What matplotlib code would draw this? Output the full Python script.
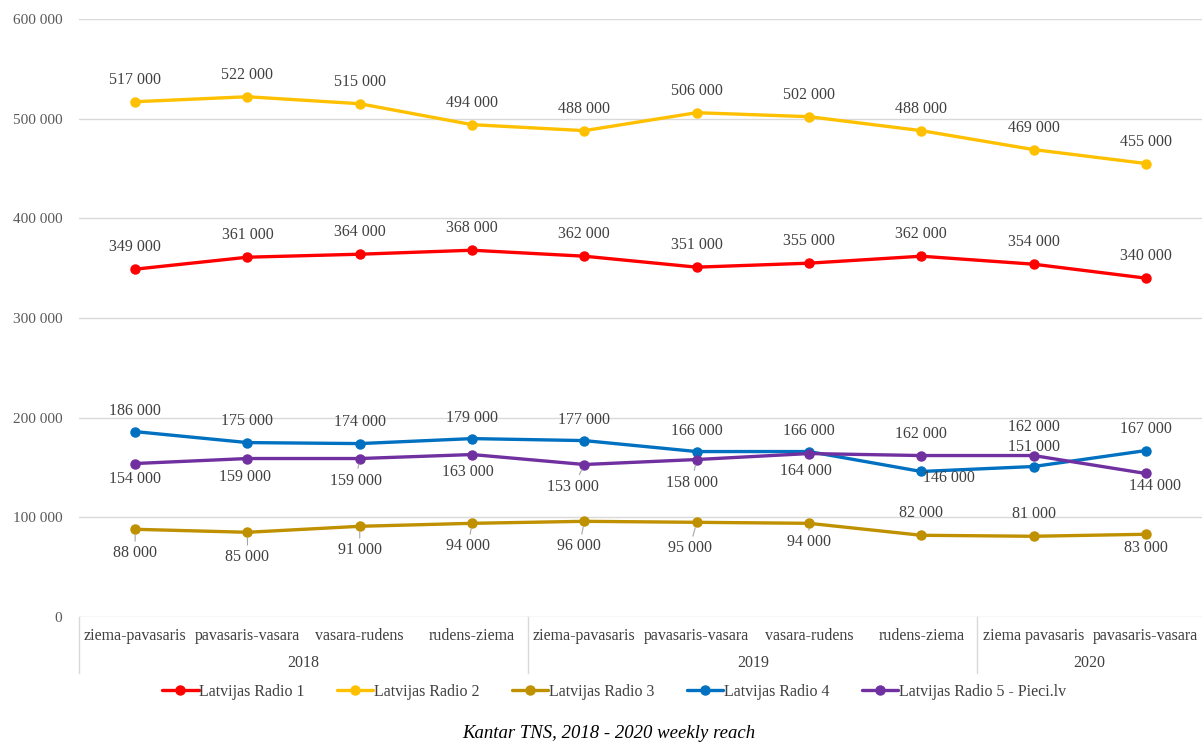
import matplotlib

matplotlib.use("Agg")

import matplotlib.pyplot as plt
import matplotlib.transforms as mtransforms
from matplotlib.lines import Line2D

seasons = [
    "ziema-pavasaris", "pavasaris-vasara", "vasara-rudens", "rudens-ziema",
    "ziema-pavasaris", "pavasaris-vasara", "vasara-rudens", "rudens-ziema",
    "ziema pavasaris", "pavasaris-vasara",
]
years = ["2018", "2019", "2020"]
year_sizes = [4, 4, 2]

radio1 = [349000, 361000, 364000, 368000, 362000, 351000, 355000, 362000, 354000, 340000]
radio2 = [517000, 522000, 515000, 494000, 488000, 506000, 502000, 488000, 469000, 455000]
radio3 = [88000, 85000, 91000, 94000, 96000, 95000, 94000, 82000, 81000, 83000]
radio4 = [186000, 175000, 174000, 179000, 177000, 166000, 166000, 146000, 151000, 167000]
radio5 = [154000, 159000, 159000, 163000, 153000, 158000, 164000, 162000, 162000, 144000]

series_names = [
    "Latvijas Radio 1", "Latvijas Radio 2", "Latvijas Radio 3",
    "Latvijas Radio 4", "Latvijas Radio 5 - Pieci.lv",
]
colors = ["#FF0000", "#FFC000", "#BF9000", "#0070C0", "#7030A0"]

# label offsets in pixels (dx, dy) for each point
up = [(0, 22)] * 10
off1 = up
off2 = up
off3 = [(0, -24), (0, -25), (0, -24), (-4, -23), (-5, -25), (-7, -26), (0, -19),
        (0, 22), (0, 22), (0, -14)]
off4 = [(0, 21), (0, 22), (0, 22), (0, 21), (0, 21), (0, 21), (0, 21),
        (28, -7), (0, 20), (0, 22)]
off5 = [(0, -15), (-2, -18), (-4, -22), (-4, -17), (-11, -22), (-5, -23), (-3, -17),
        (0, 22), (0, 29), (9, -13)]
leaders3 = [True] * 7 + [False] * 3
leaders5 = [False, False, True, False, True, True, False, False, False, False]

plt.rcParams["font.family"] = ["Liberation Serif", "DejaVu Serif"]

fig = plt.figure(figsize=(12.02, 7.44), dpi=100)
ax = fig.add_axes([79 / 1202, 127 / 744, 1123 / 1202, 598 / 744])

x = list(range(len(seasons)))
all_series = [radio1, radio2, radio3, radio4, radio5]
all_offsets = [off1, off2, off3, off4, off5]
all_leaders = [[False] * 10, [False] * 10, leaders3, [False] * 10, leaders5]

for vals, name, col, offs, leads in zip(all_series, series_names, colors, all_offsets, all_leaders):
    ax.plot(x, vals, color=col, linewidth=2.4, marker="o", markersize=6.5,
            label=name, zorder=3, solid_capstyle="round")
    for xi, v, (dx, dy), lead in zip(x, vals, offs, leads):
        txt = f"{v:,}".replace(",", " ")
        kw = {}
        if lead:
            kw["arrowprops"] = dict(arrowstyle="-", color="#A6A6A6", lw=0.8,
                                    shrinkA=1, shrinkB=4)
        ax.annotate(txt, (xi, v), xytext=(dx, dy), textcoords="offset pixels",
                    ha="center", va="center", fontsize=11.5, color="#404040",
                    zorder=4, **kw)

ax.set_xlim(-0.5, len(seasons) - 0.5)
ax.set_ylim(0, 600000)
ax.set_yticks(range(0, 600001, 100000))
ax.set_yticklabels([f"{v:,}".replace(",", " ") for v in range(0, 600001, 100000)])
ax.grid(axis="y", color="#D9D9D9", linewidth=1.0)
ax.set_axisbelow(True)
for s in ax.spines.values():
    s.set_visible(False)
ax.tick_params(axis="y", length=0, pad=12, labelsize=11, labelcolor="#595959")
ax.tick_params(axis="x", length=0, pad=8, labelsize=11.5, labelcolor="#404040")
ax.set_xticks(x)
ax.set_xticklabels(seasons)

# year group labels and dividers below the axis
trans = mtransforms.blended_transform_factory(ax.transData, ax.transAxes)
depth = -56 / 598
pos = -0.5
bounds = [pos]
for yr, n in zip(years, year_sizes):
    ax.text(pos + n / 2, -46 / 598, yr, transform=trans, ha="center", va="center",
            fontsize=11.5, color="#404040")
    pos += n
    bounds.append(pos)
for b in bounds[:-1]:
    ax.add_line(Line2D([b, b], [0, depth], transform=trans, color="#D9D9D9",
                       linewidth=1.0, clip_on=False))

fig.legend(loc="center", bbox_to_anchor=(614 / 1202, 1 - 692 / 744), ncol=5,
           frameon=False, fontsize=11.5, handlelength=2.3, handletextpad=0.05,
           columnspacing=2.0, labelcolor="#404040")

fig.text(609 / 1202, 1 - 733 / 744, "Kantar TNS, 2018 - 2020 weekly reach",
         ha="center", va="center", fontsize=13.5, style="italic", color="black")

fig.savefig("out.png", dpi=100)
